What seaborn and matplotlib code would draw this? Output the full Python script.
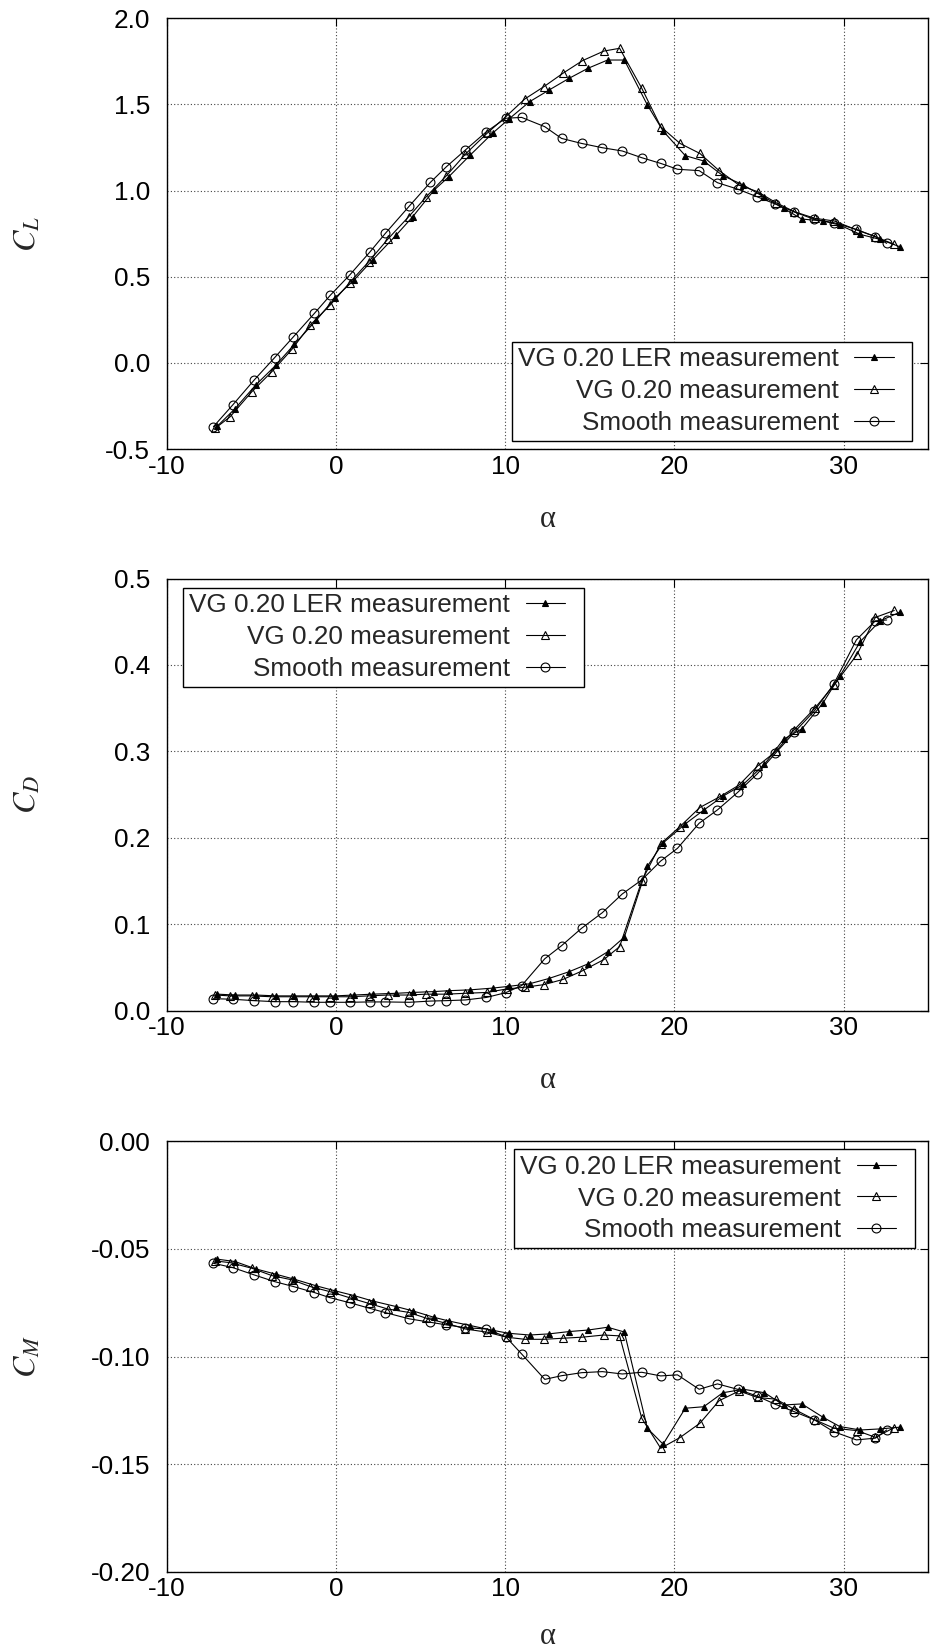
import matplotlib
matplotlib.use("Agg")
import matplotlib.pyplot as plt
from matplotlib.lines import Line2D
from matplotlib.legend_handler import HandlerLine2D
import seaborn as sns

# Angle of attack for each measurement series
alpha_ler = [-7.0, -5.96, -4.74, -3.54, -2.46, -1.15, -0.05, 1.07, 2.16, 3.56, 4.54, 5.8,
             6.67, 7.94, 9.25, 10.2, 11.44, 12.56, 13.78, 14.89, 16.05, 17.04, 18.4, 19.33,
             20.64, 21.73, 22.86, 24.08, 25.32, 26.45, 27.53, 28.78, 29.77, 30.98, 32.15, 33.32]
alpha_vg = [-7.14, -6.25, -4.97, -3.79, -2.6, -1.52, -0.34, 0.81, 1.93, 3.05, 4.3, 5.34,
            6.53, 7.65, 8.93, 10.08, 11.16, 12.28, 13.41, 14.56, 15.83, 16.76, 18.07, 19.19,
            20.33, 21.5, 22.64, 23.82, 24.91, 26.0, 27.08, 28.3, 29.44, 30.79, 31.87, 32.99]
alpha_smooth = [-7.24, -6.1, -4.83, -3.63, -2.51, -1.27, -0.34, 0.81, 1.99, 2.92, 4.34, 5.58,
                6.53, 7.65, 8.89, 10.03, 10.97, 12.34, 13.33, 14.51, 15.74, 16.92, 18.07, 19.19,
                20.18, 21.46, 22.54, 23.73, 24.87, 25.97, 27.08, 28.27, 29.41, 30.75, 31.87, 32.54]

# Lift coefficient
cl_ler = [-0.366, -0.265, -0.128, -0.012, 0.108, 0.249, 0.378, 0.481, 0.597, 0.742, 0.849, 1.003,
          1.081, 1.207, 1.333, 1.414, 1.516, 1.582, 1.652, 1.71, 1.758, 1.758, 1.497, 1.346,
          1.203, 1.172, 1.087, 1.032, 0.961, 0.897, 0.835, 0.824, 0.8, 0.746, 0.717, 0.674]
cl_vg = [-0.38, -0.312, -0.167, -0.051, 0.079, 0.22, 0.336, 0.466, 0.587, 0.717, 0.849, 0.965,
         1.087, 1.212, 1.333, 1.433, 1.532, 1.603, 1.681, 1.754, 1.81, 1.826, 1.594, 1.371,
         1.274, 1.216, 1.116, 1.032, 0.994, 0.93, 0.878, 0.839, 0.824, 0.771, 0.733, 0.688]
cl_smooth = [-0.37, -0.244, -0.099, 0.03, 0.152, 0.288, 0.392, 0.51, 0.642, 0.752, 0.911, 1.048,
             1.139, 1.236, 1.342, 1.42, 1.425, 1.371, 1.303, 1.274, 1.249, 1.23, 1.191, 1.158,
             1.124, 1.116, 1.046, 1.009, 0.965, 0.922, 0.876, 0.833, 0.814, 0.775, 0.733, 0.694]

# Drag coefficient
cd_ler = [0.019, 0.018, 0.018, 0.017, 0.017, 0.017, 0.017, 0.018, 0.019, 0.02, 0.021, 0.022,
          0.023, 0.024, 0.026, 0.028, 0.031, 0.037, 0.045, 0.054, 0.068, 0.085, 0.167, 0.194,
          0.216, 0.232, 0.248, 0.262, 0.285, 0.314, 0.326, 0.356, 0.387, 0.427, 0.451, 0.461]
cd_vg = [0.018, 0.017, 0.017, 0.016, 0.016, 0.016, 0.016, 0.016, 0.017, 0.018, 0.018, 0.019,
         0.019, 0.02, 0.021, 0.025, 0.027, 0.03, 0.036, 0.046, 0.059, 0.074, 0.15, 0.193,
         0.213, 0.235, 0.247, 0.261, 0.283, 0.3, 0.325, 0.35, 0.377, 0.412, 0.455, 0.463]
cd_smooth = [0.0138, 0.0131, 0.0115, 0.0103, 0.0103, 0.0096, 0.0096, 0.0096, 0.01, 0.01, 0.0096,
             0.011, 0.0115, 0.0123, 0.0152, 0.0207, 0.0289, 0.06, 0.0751, 0.0952, 0.1133, 0.135,
             0.1512, 0.1731, 0.1878, 0.2168, 0.2322, 0.2524, 0.2735, 0.2978, 0.322, 0.3468,
             0.3777, 0.429, 0.451, 0.452]

# Pitching moment coefficient
cm_ler = [-0.0548, -0.0559, -0.0593, -0.0618, -0.0641, -0.0672, -0.0695, -0.0717, -0.0742,
          -0.0768, -0.0788, -0.0818, -0.0835, -0.0856, -0.0878, -0.0892, -0.09, -0.0895,
          -0.0884, -0.0877, -0.0864, -0.0886, -0.1333, -0.1407, -0.124, -0.1233, -0.1168,
          -0.1152, -0.1168, -0.1225, -0.122, -0.1282, -0.1325, -0.1341, -0.1336, -0.1328]
cm_vg = [-0.0556, -0.0564, -0.059, -0.0624, -0.0644, -0.0675, -0.0699, -0.0727, -0.0753,
         -0.0779, -0.0795, -0.0822, -0.0846, -0.0872, -0.0887, -0.091, -0.092, -0.092,
         -0.0915, -0.091, -0.09, -0.0904, -0.1287, -0.1426, -0.1376, -0.131, -0.1205,
         -0.116, -0.119, -0.1198, -0.1245, -0.1294, -0.1333, -0.1344, -0.1375, -0.133]
cm_smooth = [-0.0567, -0.0587, -0.0621, -0.0652, -0.0675, -0.0703, -0.0727, -0.075, -0.0776,
             -0.0796, -0.0825, -0.0841, -0.0853, -0.0866, -0.0872, -0.0908, -0.0988, -0.1106,
             -0.1089, -0.1075, -0.107, -0.1081, -0.1073, -0.109, -0.1085, -0.1152, -0.1127,
             -0.1152, -0.1183, -0.1222, -0.1256, -0.1294, -0.1349, -0.1387, -0.1379, -0.1341]

series_labels = ["VG 0.20 LER measurement", "VG 0.20 measurement", "Smooth measurement"]

x_ticks = [-10, 0, 10, 20, 30]
x_ticklabels = ["-10", "0", "10", "20", "30"]
cl_ticks = [-0.5, 0.0, 0.5, 1.0, 1.5, 2.0]
cl_ticklabels = ["-0.5", "0.0", "0.5", "1.0", "1.5", "2.0"]
cd_ticks = [0.0, 0.1, 0.2, 0.3, 0.4, 0.5]
cd_ticklabels = ["0.0", "0.1", "0.2", "0.3", "0.4", "0.5"]
cm_ticks = [-0.20, -0.15, -0.10, -0.05, 0.00]
cm_ticklabels = ["-0.20", "-0.15", "-0.10", "-0.05", "0.00"]


class ShortSample(HandlerLine2D):
    """Legend sample whose line leaves some room at the right of the handle box."""

    def create_artists(self, legend, orig_handle, xdescent, ydescent, width, height,
                       fontsize, trans):
        return super().create_artists(legend, orig_handle, xdescent, ydescent,
                                      width * 0.76, height, fontsize, trans)


sns.set_style("white")
plt.rcParams["font.family"] = ["Liberation Sans", "DejaVu Sans"]
plt.rcParams["axes.unicode_minus"] = False
plt.rcParams["mathtext.fontset"] = "stix"

fig = plt.figure(figsize=(9.34, 16.51), dpi=100)

left, width = 0.1785, 0.8154
boxes = [(0.7280, 0.2609), (0.3879, 0.2617), (0.0479, 0.2609)]

styles = [
    dict(marker="^", markersize=4.6, markerfacecolor="black", markeredgecolor="black"),
    dict(marker="^", markersize=6.2, markerfacecolor="none", markeredgecolor="black"),
    dict(marker="o", markersize=6.4, markerfacecolor="none", markeredgecolor="black"),
]
alphas = [alpha_ler, alpha_vg, alpha_smooth]

panels = [
    dict(values=[cl_ler, cl_vg, cl_smooth], ylim=(-0.5, 2.0), ticks=cl_ticks,
         ticklabels=cl_ticklabels, ylabel=r"$C_L$", xlabel_y=-0.129,
         legend=dict(loc="lower right", bbox_to_anchor=(0.979, 0.019))),
    dict(values=[cd_ler, cd_vg, cd_smooth], ylim=(0.0, 0.5), ticks=cd_ticks,
         ticklabels=cd_ticklabels, ylabel=r"$C_D$", xlabel_y=-0.129,
         legend=dict(loc="upper left", bbox_to_anchor=(0.022, 0.979))),
    dict(values=[cm_ler, cm_vg, cm_smooth], ylim=(-0.2, 0.0), ticks=cm_ticks,
         ticklabels=cm_ticklabels, ylabel=r"$C_M$", xlabel_y=-0.117,
         legend=dict(loc="upper right", bbox_to_anchor=(0.982, 0.982))),
]

for (bottom, height), panel in zip(boxes, panels):
    ax = fig.add_axes([left, bottom, width, height])
    for a, v, st, lab in zip(alphas, panel["values"], styles, series_labels):
        sns.lineplot(x=a, y=v, ax=ax, color="black", linewidth=0.8,
                     markeredgewidth=0.8, sort=False, estimator=None,
                     label=lab, legend=False, **st)

    ax.set_xlim(-10, 35)
    ax.set_ylim(*panel["ylim"])
    ax.set_xticks(x_ticks)
    ax.set_xticklabels(x_ticklabels)
    ax.set_yticks(panel["ticks"])
    ax.set_yticklabels(panel["ticklabels"])
    ax.tick_params(direction="in", length=6, width=0.8, labelsize=18.8,
                   top=True, right=True, colors="black")
    ax.tick_params(axis="x", pad=4)
    ax.tick_params(axis="y", pad=12)
    ax.grid(True, color="#444444", linestyle=(0, (1, 2)), linewidth=0.8)
    ax.set_axisbelow(True)
    for sp in ax.spines.values():
        sp.set_visible(True)
        sp.set_color("black")
        sp.set_linewidth(1.0)

    ax.set_xlabel("α", fontsize=22, family=["Liberation Serif", "DejaVu Serif"])
    ax.xaxis.set_label_coords(0.5, panel["xlabel_y"])
    ax.set_ylabel(panel["ylabel"], fontsize=23)
    ax.yaxis.set_label_coords(-0.163, 0.5)

    leg = ax.legend(handles=ax.lines[:3], labels=series_labels, markerfirst=False,
                    handler_map={Line2D: ShortSample()},
                    fontsize=18.8, frameon=True, fancybox=False, framealpha=1,
                    edgecolor="black", borderaxespad=0, borderpad=0.22,
                    labelspacing=0.3, handlelength=2.0, handletextpad=0.6,
                    **panel["legend"])
    leg.get_frame().set_linewidth(1.0)

fig.savefig("out.png", dpi=100)
